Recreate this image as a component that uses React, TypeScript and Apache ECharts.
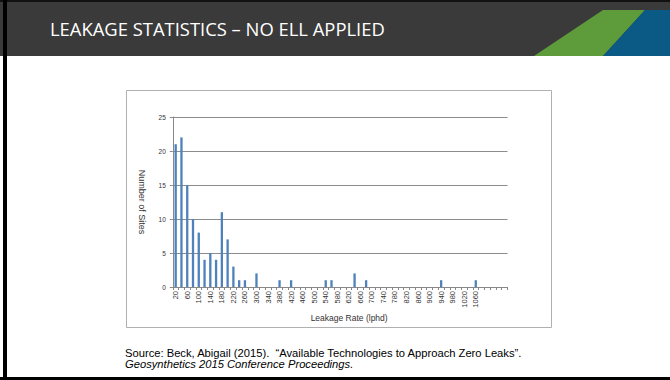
import React, { useEffect, useRef } from "react";
import * as echarts from "echarts";

const TITLE = "LEAKAGE STATISTICS – NO ELL APPLIED";
const SOURCE_LINE_1 = "Source: Beck, Abigail (2015).  “Available Technologies to Approach Zero Leaks”.";
const SOURCE_LINE_2 = "Geosynthetics 2015 Conference Proceedings.";
const X_NAME = "Leakage Rate (lphd)";
const Y_NAME = "Number of Sites";

// Leakage rate bins (lphd), 20 to 1160 in steps of 20
const categories: number[] = [
  20, 40, 60, 80, 100, 120, 140, 160, 180, 200,
  220, 240, 260, 280, 300, 320, 340, 360, 380, 400,
  420, 440, 460, 480, 500, 520, 540, 560, 580, 600,
  620, 640, 660, 680, 700, 720, 740, 760, 780, 800,
  820, 840, 860, 880, 900, 920, 940, 960, 980, 1000,
  1020, 1040, 1060, 1080, 1100, 1120, 1140, 1160,
];
// Number of sites per bin
const sites: number[] = [
  21, 22, 15, 10, 8, 4, 5, 4, 11, 7,
  3, 1, 1, 0, 2, 0, 0, 0, 1, 0,
  1, 0, 0, 0, 0, 0, 1, 1, 0, 0,
  0, 2, 0, 1, 0, 0, 0, 0, 0, 0,
  0, 0, 0, 0, 0, 0, 1, 0, 0, 0,
  0, 0, 1, 0, 0, 0, 0, 0,
];
const LAST_LABEL = 1060;
const yTicks = { min: 0, max: 25, interval: 5 };

export default function App() {
  const ref = useRef<HTMLDivElement>(null);
  useEffect(() => {
    if (!ref.current) return;
    const chart = echarts.init(ref.current, null, { renderer: "svg" });
    const axisFont = "Liberation Sans, Arial, sans-serif";
    chart.setOption({
      animation: false,
      backgroundColor: "#ffffff",
      grid: { left: 172.8, right: 162.5, top: 117, bottom: 93, containLabel: false },
      xAxis: {
        type: "category",
        data: categories.map(String),
        boundaryGap: true,
        name: X_NAME,
        nameLocation: "middle",
        nameGap: 26,
        nameTextStyle: { fontFamily: axisFont, fontSize: 8.5, color: "#333333", padding: [0, 0, 0, 18] },
        axisLine: { show: true, lineStyle: { color: "#888888", width: 1 } },
        axisTick: { show: true, interval: 0, length: 3, lineStyle: { color: "#888888" } },
        axisLabel: {
          interval: 1,
          rotate: 90,
          margin: 4,
          fontFamily: axisFont,
          fontSize: 7.5,
          color: "#333333",
          formatter: (v: string) => (Number(v) > LAST_LABEL ? "" : v),
        },
        splitLine: { show: false },
      },
      yAxis: {
        type: "value",
        min: yTicks.min,
        max: yTicks.max,
        interval: yTicks.interval,
        name: Y_NAME,
        nameLocation: "middle",
        nameRotate: -90,
        nameGap: 26,
        nameTextStyle: { fontFamily: axisFont, fontSize: 9, color: "#333333" },
        axisLine: { show: true, lineStyle: { color: "#888888", width: 1 } },
        axisTick: { show: true, length: 3, lineStyle: { color: "#888888" } },
        axisLabel: { margin: 7, fontFamily: axisFont, fontSize: 6.5, color: "#333333" },
        splitLine: { show: true, lineStyle: { color: "#8c8c8c", width: 1 } },
      },
      series: [
        {
          type: "bar",
          data: sites,
          barCategoryGap: "60%",
          itemStyle: { color: "#4f81bd" },
          silent: true,
        },
      ],
      graphic: [
        // header bar
        { type: "rect", z: -10, shape: { x: 0, y: 0, width: 670, height: 56 }, style: { fill: "#3a3a3a" } },
        { type: "rect", z: -9, shape: { x: 0, y: 0, width: 670, height: 2 }, style: { fill: "#111111" } },
        {
          type: "polygon",
          z: -8,
          shape: { points: [[534, 56], [603, 10], [645, 10], [603, 56]] },
          style: { fill: "#5e9c3b" },
        },
        {
          type: "polygon",
          z: -8,
          shape: { points: [[603, 56], [645, 10], [670, 10], [670, 56]] },
          style: { fill: "#0b5a86" },
        },
        {
          type: "text",
          x: 50,
          y: 28,
          style: {
            text: TITLE,
            fill: "#ffffff",
            font: "18.4px 'Open Sans', sans-serif",
            verticalAlign: "middle",
          },
        },
        // slide borders
        { type: "rect", z: 10, shape: { x: 3, y: 0, width: 4, height: 380 }, style: { fill: "#000000" } },
        { type: "rect", z: 10, shape: { x: 0, y: 377, width: 670, height: 3 }, style: { fill: "#000000" } },
        // chart frame
        {
          type: "rect",
          z: -5,
          shape: { x: 126.5, y: 90.5, width: 425, height: 237 },
          style: { fill: "none", stroke: "#b0b0b0", lineWidth: 1 },
        },
        {
          type: "text",
          x: 125,
          y: 352.5,
          style: {
            text: SOURCE_LINE_1,
            fill: "#000000",
            font: "11.2px 'Liberation Sans', Arial, sans-serif",
            verticalAlign: "middle",
          },
        },
        {
          type: "text",
          x: 125,
          y: 364,
          style: {
            text: SOURCE_LINE_2,
            fill: "#000000",
            font: "italic 11.2px 'Liberation Sans', Arial, sans-serif",
            verticalAlign: "middle",
          },
        },
      ],
    });
    return () => chart.dispose();
  }, []);
  return (
    <div
      ref={ref}
      style={{ position: "fixed", left: 0, top: 0, width: 670, height: 380 }}
    />
  );
}
